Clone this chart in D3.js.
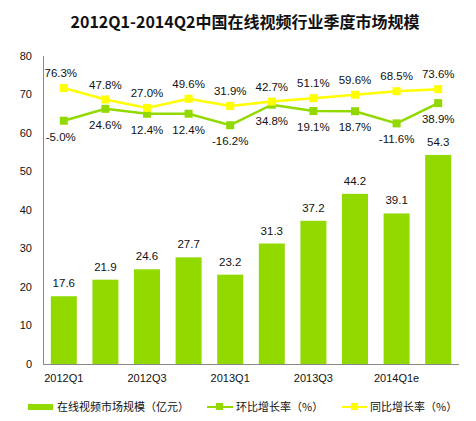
<!DOCTYPE html>
<html><head><meta charset="utf-8">
<script src="https://cdn.jsdelivr.net/npm/d3@7"></script>
<style>body{margin:0;background:#fff;}svg{display:block;}</style>
</head><body><svg id="c" width="476" height="421"></svg>
<script>
const categories = ["2012Q1","2012Q2","2012Q3","2012Q4","2013Q1","2013Q2","2013Q3","2013Q4","2014Q1e","2014Q2e"];
const tickLabels = ["2012Q1","","2012Q3","","2013Q1","","2013Q3","","2014Q1e",""];
const marketSize = [17.6,21.9,24.6,27.7,23.2,31.3,37.2,44.2,39.1,54.3];
const qoqGrowth = [-5.0,24.6,12.4,12.4,-16.2,34.8,19.1,18.7,-11.6,38.9];
const yoyGrowth = [76.3,47.8,27.0,49.6,31.9,42.7,51.1,59.6,68.5,73.6];
const yTicks = [0,10,20,30,40,50,60,70,80];

const svg = d3.select("#c");
const font = "'Liberation Sans', Arial, sans-serif";
const barColor = "#92D900", lineGreen = "#92D900", lineYellow = "#FFFF00";
const pLeft = 43, pRight = 459, pTop = 56, pBottom = 364;

const x = d3.scaleBand().domain(categories).range([pLeft, pRight]).paddingInner(0.375).paddingOuter(0.1875);
const y = d3.scaleLinear().domain([0, 80]).range([pBottom, pTop]);
const y2 = d3.scaleLinear().domain([-610, 156]).range([pBottom, pTop]);

// title
svg.append("text").attr("x", 245).attr("y", 28).attr("text-anchor", "middle")
  .attr("font-family", "'Noto Sans CJK SC', sans-serif").attr("font-weight", "bold")
  .attr("font-size", 16).attr("fill", "#111").text("2012Q1-2014Q2中国在线视频行业季度市场规模");

// y axis labels
svg.append("g").selectAll("text").data(yTicks).join("text")
  .attr("x", 32).attr("y", d => y(d)).attr("dy", "0.35em").attr("text-anchor", "end")
  .attr("font-family", font).attr("font-size", 11).attr("fill", "#111").text(d => d);

// bars
svg.append("g").selectAll("rect").data(marketSize).join("rect")
  .attr("x", (d, i) => x(categories[i])).attr("width", x.bandwidth())
  .attr("y", d => y(d)).attr("height", d => y(0) - y(d)).attr("fill", barColor);

svg.append("g").selectAll("text").data(marketSize).join("text")
  .attr("x", (d, i) => x(categories[i]) + x.bandwidth() / 2).attr("y", d => y(d) - 13)
  .attr("dy", "0.35em").attr("text-anchor", "middle")
  .attr("font-family", font).attr("font-size", 11.5).attr("fill", "#111").text(d => d.toFixed(1));

// axes lines
svg.append("line").attr("x1", pLeft + 0.5).attr("x2", pLeft + 0.5).attr("y1", pTop).attr("y2", pBottom + 0.5)
  .attr("stroke", "#888").attr("stroke-width", 1);
svg.append("line").attr("x1", pLeft).attr("x2", pRight).attr("y1", pBottom + 0.5).attr("y2", pBottom + 0.5)
  .attr("stroke", "#888").attr("stroke-width", 1);

// x labels
svg.append("g").selectAll("text").data(tickLabels).join("text")
  .attr("x", (d, i) => x(categories[i]) + x.bandwidth() / 2).attr("y", 378).attr("dy", "0.35em")
  .attr("text-anchor", "middle").attr("font-family", font).attr("font-size", 11).attr("fill", "#111").text(d => d);

const cx = i => x(categories[i]) + x.bandwidth() / 2;
function drawLine(data, color, labelOffset) {
  const line = d3.line().x((d, i) => cx(i)).y(d => y2(d));
  svg.append("path").datum(data).attr("d", line).attr("fill", "none").attr("stroke", color).attr("stroke-width", 2.5);
  svg.append("g").selectAll("rect").data(data).join("rect")
    .attr("x", (d, i) => cx(i) - 4).attr("y", d => y2(d) - 4).attr("width", 8).attr("height", 8).attr("fill", color);
  svg.append("g").selectAll("text").data(data).join("text")
    .attr("x", (d, i) => cx(i) - (i === 0 ? 3 : 0)).attr("y", d => y2(d) + labelOffset).attr("dy", "0.35em")
    .attr("text-anchor", "middle").attr("font-family", font).attr("font-size", 11.5).attr("fill", "#111")
    .text(d => d.toFixed(1) + "%");
}
drawLine(qoqGrowth, lineGreen, 16);
drawLine(yoyGrowth, lineYellow, -15);

// legend
const lg = svg.append("g").attr("font-family", "'Noto Sans CJK SC', sans-serif").attr("font-size", 11).attr("fill", "#111");
lg.append("rect").attr("x", 28).attr("y", 404).attr("width", 25).attr("height", 6).attr("fill", barColor);
lg.append("text").attr("x", 57).attr("y", 407).attr("dy", "0.35em").text("在线视频市场规模（亿元）");
lg.append("line").attr("x1", 207).attr("x2", 233).attr("y1", 407).attr("y2", 407).attr("stroke", lineGreen).attr("stroke-width", 2);
lg.append("rect").attr("x", 216).attr("y", 403).attr("width", 7).attr("height", 7).attr("fill", lineGreen);
lg.append("text").attr("x", 236).attr("y", 407).attr("dy", "0.35em").text("环比增长率（%）");
lg.append("line").attr("x1", 342).attr("x2", 367).attr("y1", 407).attr("y2", 407).attr("stroke", lineYellow).attr("stroke-width", 2);
lg.append("rect").attr("x", 351).attr("y", 403).attr("width", 7).attr("height", 7).attr("fill", lineYellow);
lg.append("text").attr("x", 370).attr("y", 407).attr("dy", "0.35em").text("同比增长率（%）");
</script></body></html>
